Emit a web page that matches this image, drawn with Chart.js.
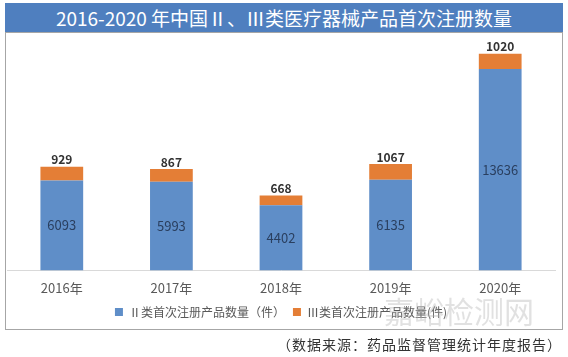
<!DOCTYPE html>
<html><head><meta charset="utf-8">
<script src="https://cdn.jsdelivr.net/npm/chart.js@4"></script>
<style>
html,body{margin:0;padding:0;background:#fff;width:568px;height:357px;overflow:hidden;font-family:"Noto Sans CJK SC","Noto Sans",sans-serif;}
#title{position:absolute;left:5px;top:3px;width:558px;height:29px;background:#4f7fbf;color:#fff;font-size:19px;line-height:29px;text-align:center;}
#box{position:absolute;left:5px;top:32px;width:556px;height:296px;border:1px solid #a6a6a6;}
#wrap{position:absolute;left:0;top:0;width:556px;height:296px;}
#src{position:absolute;right:6px;top:334px;font-size:14px;color:#333;letter-spacing:1px;}
#wm{position:absolute;left:384px;top:288px;font-size:30px;color:rgba(170,170,170,0.35);letter-spacing:0px;}
</style></head>
<body>
<div id="title">2016-2020 年中国Ⅱ、Ⅲ类医疗器械产品首次注册数量</div>
<div id="box"><div id="wrap"><canvas id="c"></canvas></div></div>
<div id="wm">嘉峪检测网</div>
<div id="src">（数据来源：药品监督管理统计年度报告）</div>
<script>
const categories = ["2016年","2017年","2018年","2019年","2020年"];
const class2 = [6093,5993,4402,6135,13636];
const class3 = [929,867,668,1067,1020];
const seriesNames = ["Ⅱ类首次注册产品数量（件）","Ⅲ类首次注册产品数量(件)"];

const labelPlugin = {
  id:'labels',
  afterDatasetsDraw(chart){
    const ctx = chart.ctx;
    ctx.save();
    ctx.textAlign='center';
    const m0 = chart.getDatasetMeta(0), m1 = chart.getDatasetMeta(1);
    m0.data.forEach((el,i)=>{
      ctx.font='13px "Noto Sans CJK SC", sans-serif';
      ctx.fillStyle='#2a3f5f';
      ctx.textBaseline='middle';
      ctx.fillText(String(class2[i]), el.x, (el.y+el.base)/2);
    });
    m1.data.forEach((el,i)=>{
      ctx.font='bold 12px "Noto Sans CJK SC", sans-serif';
      ctx.fillStyle='#333';
      ctx.textBaseline='bottom';
      ctx.fillText(String(class3[i]), el.x, el.y-1);
    });
    ctx.restore();
  }
};

new Chart(document.getElementById('c'),{
  type:'bar',
  data:{labels:categories,datasets:[
    {label:seriesNames[0],data:class2,backgroundColor:'#5f8ec8',categoryPercentage:1,barPercentage:0.39},
    {label:seriesNames[1],data:class3,backgroundColor:'#e47e36',categoryPercentage:1,barPercentage:0.39}
  ]},
  options:{
    responsive:true,maintainAspectRatio:false,animation:false,
    layout:{padding:{left:1,right:7,top:1,bottom:1}},
    plugins:{
      legend:{position:'bottom',labels:{boxWidth:8,boxHeight:8,padding:8,color:'#595959',font:{size:12,family:'"Noto Sans CJK SC", sans-serif'}}},
      tooltip:{enabled:false}
    },
    scales:{
      x:{stacked:true,grid:{display:false},border:{color:'#d9d9d9'},ticks:{color:'#595959',padding:2,font:{size:13,family:'"Noto Sans CJK SC", sans-serif'}}},
      y:{stacked:true,display:false,min:0,max:16000}
    }
  },
  plugins:[labelPlugin]
});
</script>
</body></html>
